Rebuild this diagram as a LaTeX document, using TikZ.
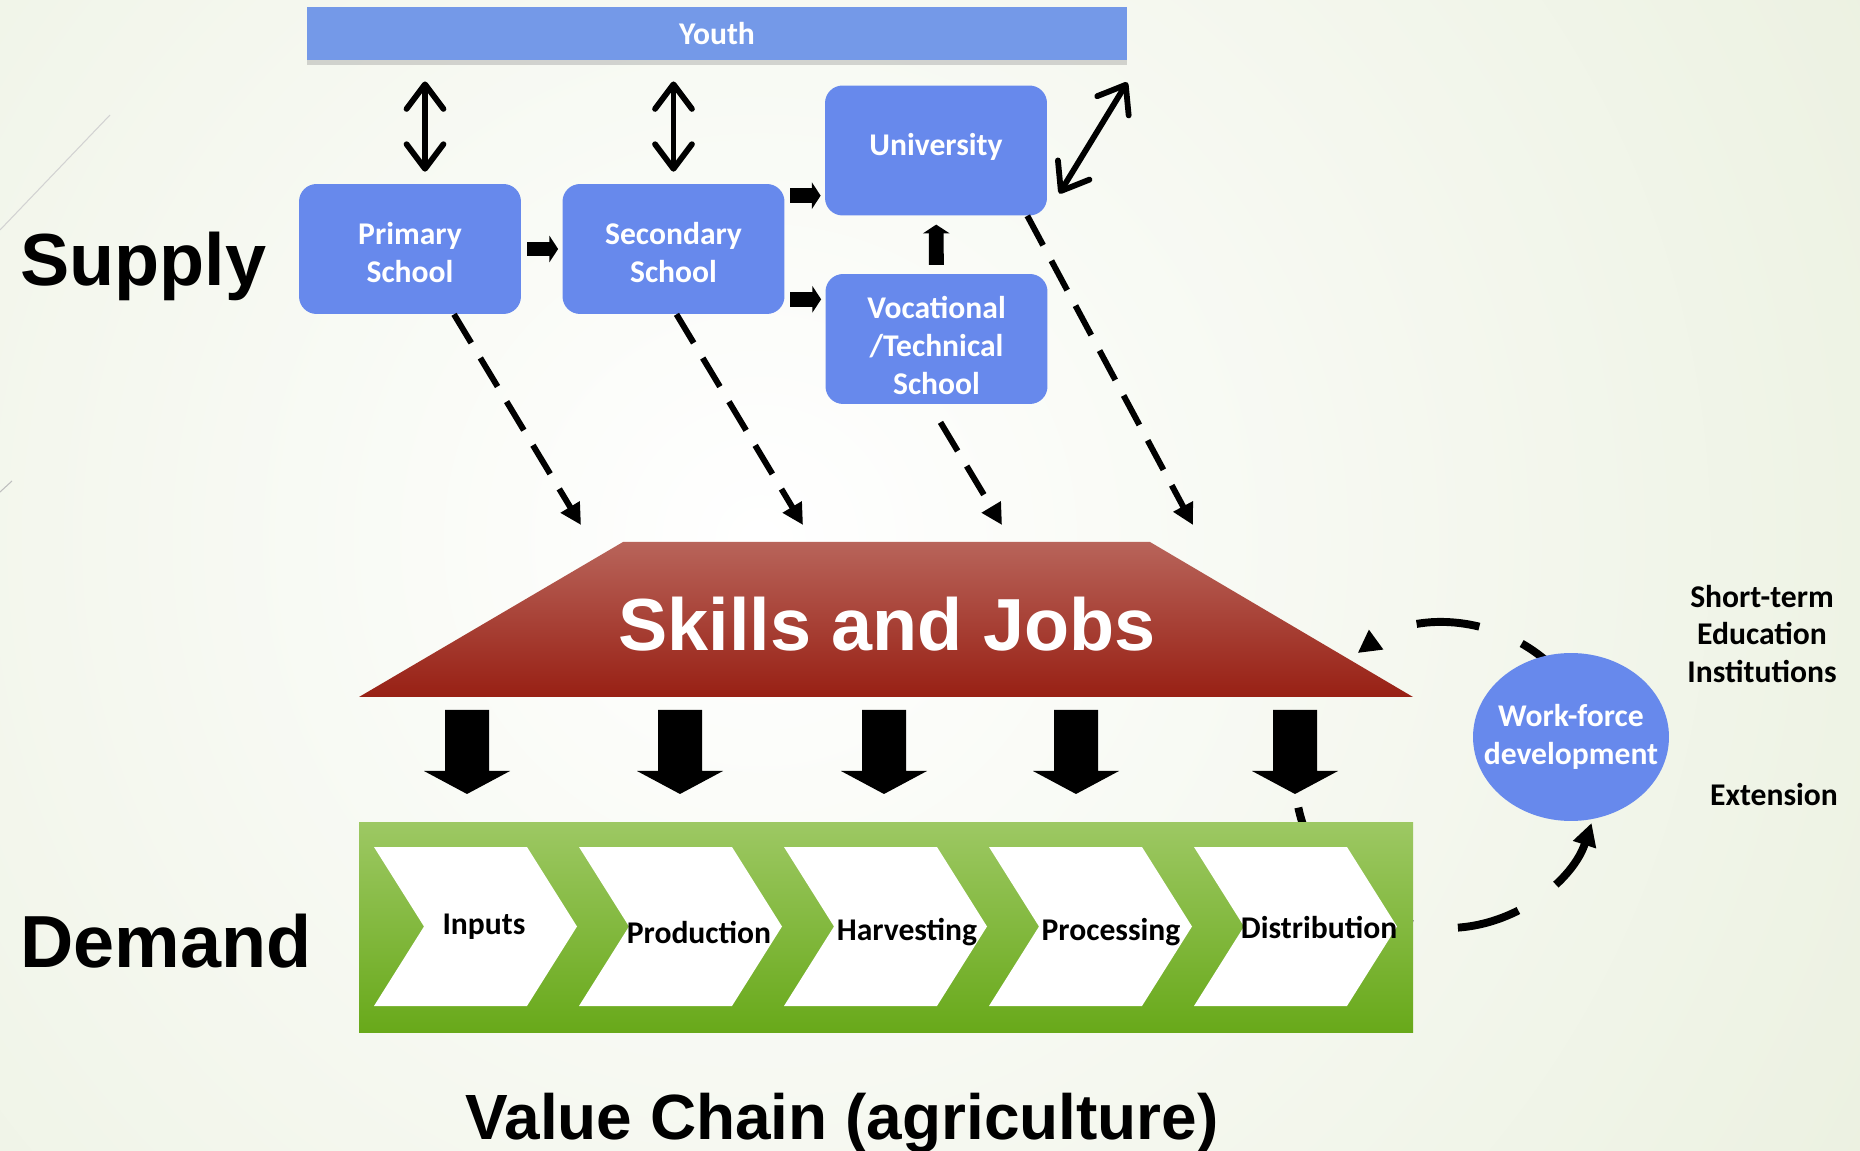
\documentclass[tikz,border=0pt]{standalone}
\usepackage{fontspec}
\setmainfont{Carlito}
\setsansfont{Liberation Sans}
\usetikzlibrary{arrows.meta, shapes.geometric, shadows}

\definecolor{boxblue}{RGB}{103,137,236}
\definecolor{youthblue}{RGB}{116,153,232}
\definecolor{sjtop}{RGB}{184,100,90}
\definecolor{sjbot}{RGB}{152,32,20}
\definecolor{vctop}{RGB}{157,200,99}
\definecolor{vcbot}{RGB}{104,169,26}
\definecolor{bgouter}{RGB}{226,234,210}

\newcommand{\boxlines}[2]{\raisebox{#1}[\height][\depth]{\begin{tabular}{@{}c@{}}#2\end{tabular}}}

\begin{document}
\begin{tikzpicture}[
        x=0.02cm, y=-0.02cm,
        school/.style={fill=boxblue, rounded corners=10pt, minimum width=4.44cm, minimum height=2.6cm,
            text=white, align=center, inner sep=2pt, font=\fontsize{18}{21.6}\selectfont\bfseries},
        youthbar/.style={fill=youthblue, minimum width=16.4cm, minimum height=1.06cm, text=white,
            font=\fontsize{18}{21.6}\selectfont\bfseries,
            drop shadow={shadow xshift=0pt, shadow yshift=-3pt, fill=black!45, opacity=.35}},
        stage/.style={font=\fontsize{18}{21.6}\selectfont\bfseries, inner sep=0pt},
        sidetext/.style={align=center, font=\fontsize{18}{21.6}\selectfont\bfseries},
        bigtitle/.style={font=\sffamily\bfseries\fontsize{42}{50}\selectfont, inner sep=0pt},
        blockarr/.style={line width=8.5pt, -{Triangle[length=5pt, width=15pt]}},
        dblarr/.style={line width=3.3pt, {Straight Barb[length=14pt, width=21pt, round]}-{Straight Barb[length=14pt, width=21pt, round]}},
        dashedarr/.style={line width=3.4pt, dash pattern=on 19pt off 10pt, -{Triangle[length=12pt, width=12pt]}},
        cyclearr/.style={line width=4.5pt, -{Triangle[length=13pt, width=13pt]}},
    ]
    \useasboundingbox (0,0) rectangle (1860,1151);

    % background
    \fill[bgouter] (0,0) rectangle (1860,1151);
    \shade[inner color=white, outer color=bgouter] (760,540) circle[radius=1900];
    \draw[line width=0.6pt, gray!35] (0,230) -- (110,115);
    \draw[line width=0.6pt, gray!50] (0,492) -- (12,481);

    % supply side
    \node[youthbar] (youth) at (717,33.5) {Youth};
    \node[school] (primary) at (410,249) {\boxlines{-4pt}{Primary\\School}};
    \node[school] (secondary) at (673.5,249) {\boxlines{-4pt}{Secondary\\School}};
    \node[school] (university) at (936,150.5) {\boxlines{1.3pt}{University}};
    \node[school] (vocational) at (936.5,339) {\boxlines{-5.4pt}{Vocational\\/Technical\\School}};

    \coordinate (p2y) at ([shift={(15,0)}]primary.north);
    \draw[dblarr, shorten <=6.8pt, shorten >=12pt] (p2y) -- (p2y |- youth.south);
    \draw[dblarr, shorten <=6.8pt, shorten >=12pt] (secondary.north) -- (secondary.north |- youth.south);
    \draw[dblarr] ([shift={(12,43)}]university.east) -- ([shift={(0,22)}]youth.south east);

    \draw[blockarr, shorten <=3.4pt, shorten >=2.3pt] (primary) -- (secondary);
    \coordinate (s2u) at ([shift={(0,12)}]secondary.north east);
    \draw[blockarr, shorten <=3pt, shorten >=2.3pt] (s2u) -- (s2u -| university.west);
    \coordinate (s2v) at ([shift={(0,-15)}]secondary.south east);
    \draw[blockarr, shorten <=3pt, shorten >=2.3pt] (s2v) -- (s2v -| vocational.west);
    \draw[blockarr, shorten <=5pt, shorten >=5pt] (vocational) -- (university);

    \node[bigtitle, anchor=base west] (supply) at (20,286) {Supply};

    % workforce loop
    \coordinate (loop) at (1447,776);
    \draw[cyclearr, dash pattern=on 36pt off 26pt, dash phase=20pt]
        ([shift={(-50:152)}]loop) arc[start angle=-50, end angle=-126, radius=152];
    \draw[cyclearr, dash pattern=on 36pt off 26pt]
        ([shift={(-192:152)}]loop) arc[start angle=-192, end angle=-342, radius=152];

    % skills and jobs
    \coordinate (sjtl) at (623,542);
    \coordinate (sjtr) at (1150,542);
    \coordinate (sjbl) at (359,697);
    \coordinate (sjbr) at (1413,697);
    \shade[top color=sjtop, bottom color=sjbot] (sjbl) -- (sjtl) -- (sjtr) -- (sjbr) -- cycle;
    \node[bigtitle, text=white, anchor=base] (skills) at (887,651) {Skills and Jobs};

    \draw[dashedarr] ([shift={(44,0)}]primary.south) -- ([shift={(-42,-17)}]sjtl);
    \draw[dashedarr] ([shift={(3,0)}]secondary.south) -- ([shift={(180,-17)}]sjtl);
    \draw[dashedarr] ([shift={(4,18)}]vocational.south) -- ([shift={(379,-17)}]sjtl);
    \draw[dashedarr] ([shift={(-20,0)}]university.south east) -- ([shift={(43,-17)}]sjtr);

    \foreach \ax in {467,680,884,1076,1295}
        \fill[black] (\ax-22,710) -- (\ax+22,710) -- (\ax+22,771) -- (\ax+43,771)
            -- (\ax,794) -- (\ax-43,771) -- (\ax-22,771) -- cycle;

    % value chain
    \shade[top color=vctop, bottom color=vcbot] (359,823) rectangle (1413,1032);
    \foreach \lbl/\dx/\ty [count=\i] in {Inputs/110/927, Production/120/932, Harvesting/123/932,
            Processing/122/932, Distribution/125/927} {
        \pgfmathsetmacro{\lx}{374+205*(\i-1)}
        \fill[white] (\lx,847) -- ++(153,0) -- ++(50,79.5) -- ++(-50,79.5) -- ++(-153,0)
            -- ++(50,-79.5) -- cycle;
        \node[stage] (stage\i) at (\lx+\dx,\ty) {\lbl};
    }

    \node[bigtitle, anchor=base west] (demand) at (20,967) {Demand};
    \node[bigtitle, font=\sffamily\bfseries\fontsize{36.4}{43}\selectfont, anchor=base] (vctitle)
        at (842,1139) {Value Chain (agriculture)};

    % workforce development
    \node[ellipse, fill=boxblue, minimum width=3.92cm, minimum height=3.36cm, inner ysep=0pt,
        inner xsep=-12pt, text=white, align=center, font=\fontsize{18}{21.6}\selectfont\bfseries] (wfd)
        at (1571,737) {Work-force\\development};
    \node[sidetext] (shortterm) at (1762,634) {Short-term\\Education\\Institutions};
    \node[sidetext] (extension) at (1774,795) {Extension};
\end{tikzpicture}
\end{document}
